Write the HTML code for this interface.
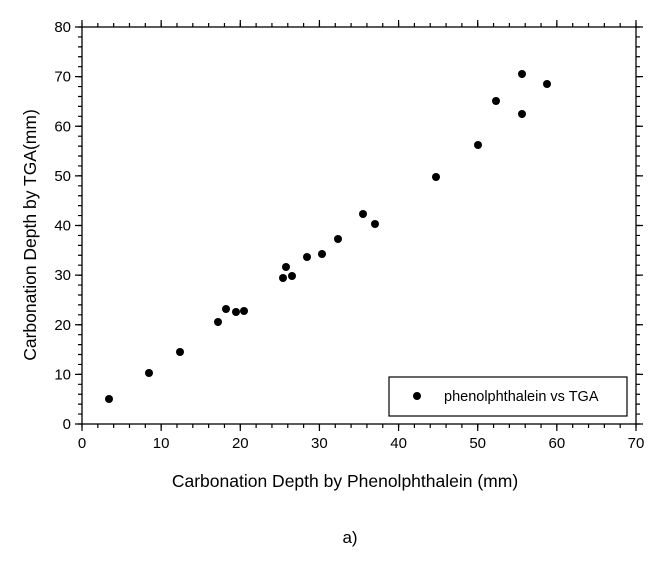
<!DOCTYPE html><html><head><style>body{margin:0;background:#fff}svg{display:block}text{font-family:"Liberation Sans",Arial,sans-serif;fill:#000}</style></head><body>
<svg width="664" height="564" xmlns="http://www.w3.org/2000/svg">
<rect x="82" y="27" width="554" height="397" fill="none" stroke="#000" stroke-width="1.3"/>
<g stroke="#000">
<line x1="81.4" y1="426" x2="637" y2="426" stroke-width="4" stroke-dasharray="1.2 14.629"/>
<line x1="81.4" y1="427.5" x2="637" y2="427.5" stroke-width="7" stroke-dasharray="1.2 77.943"/>
<line x1="81.4" y1="25" x2="637" y2="25" stroke-width="4" stroke-dasharray="1.2 14.629"/>
<line x1="81.4" y1="23.5" x2="637" y2="23.5" stroke-width="7" stroke-dasharray="1.2 77.943"/>
<line x1="80" y1="424.6" x2="80" y2="26" stroke-width="4" stroke-dasharray="1.2 8.725"/>
<line x1="78.5" y1="424.6" x2="78.5" y2="26" stroke-width="7" stroke-dasharray="1.2 48.425"/>
<line x1="638" y1="424.6" x2="638" y2="26" stroke-width="4" stroke-dasharray="1.2 8.725"/>
<line x1="639.5" y1="424.6" x2="639.5" y2="26" stroke-width="7" stroke-dasharray="1.2 48.425"/>
</g>
<g font-size="15" text-anchor="middle">
<text x="82" y="448">0</text><text x="161.1" y="448">10</text><text x="240.3" y="448">20</text><text x="319.4" y="448">30</text><text x="398.6" y="448">40</text><text x="477.7" y="448">50</text><text x="556.9" y="448">60</text><text x="636" y="448">70</text>
</g>
<g font-size="15" text-anchor="end">
<text x="71" y="429">0</text><text x="71" y="379.4">10</text><text x="71" y="329.8">20</text><text x="71" y="280.1">30</text><text x="71" y="230.5">40</text><text x="71" y="180.9">50</text><text x="71" y="131.3">60</text><text x="71" y="81.6">70</text><text x="71" y="32">80</text>
</g>
<g fill="#000">
<circle cx="109" cy="399" r="4"/><circle cx="149" cy="373" r="4"/><circle cx="180" cy="352" r="4"/><circle cx="218" cy="322" r="4"/><circle cx="226" cy="309" r="4"/><circle cx="236" cy="312" r="4"/><circle cx="244" cy="311" r="4"/>
<circle cx="283" cy="278" r="4"/><circle cx="286" cy="267" r="4"/><circle cx="292" cy="276" r="4"/><circle cx="307" cy="257" r="4"/><circle cx="322" cy="254" r="4"/><circle cx="338" cy="239" r="4"/><circle cx="363" cy="214" r="4"/><circle cx="375" cy="224" r="4"/>
<circle cx="436" cy="177" r="4"/><circle cx="478" cy="145" r="4"/><circle cx="496" cy="101" r="4"/><circle cx="522" cy="74" r="4"/><circle cx="522" cy="114" r="4"/><circle cx="547" cy="84" r="4"/>
</g>
<rect x="389" y="377" width="238" height="39" fill="#fff" stroke="#000" stroke-width="1.2"/>
<circle cx="417" cy="396" r="4" fill="#000"/>
<text x="444" y="401" font-size="14.5">phenolphthalein vs TGA</text>
<text x="345" y="487" font-size="17.5" text-anchor="middle">Carbonation Depth by Phenolphthalein (mm)</text>
<text transform="translate(36,235) rotate(-90)" font-size="17.5" text-anchor="middle">Carbonation Depth by TGA(mm)</text>
<text x="350" y="543" font-size="17" text-anchor="middle">a)</text>
</svg></body></html>
